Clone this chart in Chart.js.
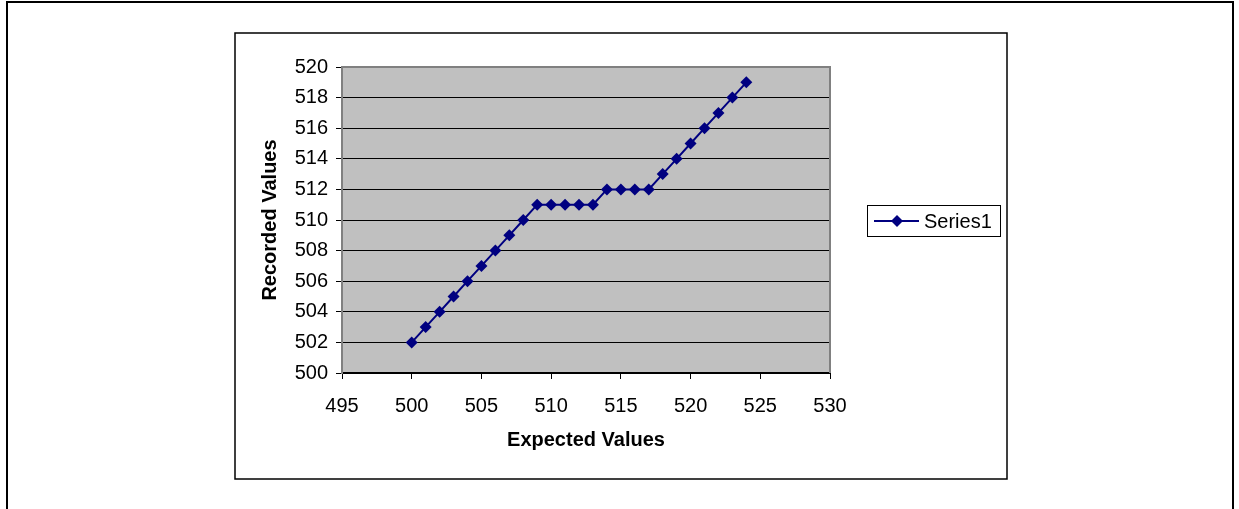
<!DOCTYPE html>
<html>
<head>
<meta charset="utf-8">
<script src="https://cdn.jsdelivr.net/npm/chart.js@4.4.1/dist/chart.umd.min.js"></script>
<style>
    html, body { margin: 0; padding: 0; background: #fff; }
    #wrap { width: 1239px; height: 509px; }
</style>
</head>
<body>
<div id="wrap"><canvas id="lineChart" width="1239" height="509"></canvas></div>
<script>
const expected = [500, 501, 502, 503, 504, 505, 506, 507, 508, 509, 510, 511, 512,
    513, 514, 515, 516, 517, 518, 519, 520, 521, 522, 523, 524];
const recorded = [502, 503, 504, 505, 506, 507, 508, 509, 510, 511, 511, 511, 511,
    511, 512, 512, 512, 512, 513, 514, 515, 516, 517, 518, 519];
const seriesName = 'Series1';

const chartConfig = {
    font: 'Liberation Sans, Arial, sans-serif',
    navy: '#000080',
    plotFill: '#c0c0c0',
    plotBorder: '#808080',
};

// frames, plot background and the legend box
const framePlugin = {
    id: 'frames',
    beforeDraw(chart) {
        const c = chart.ctx;
        const a = chart.chartArea;
        c.save();
        c.fillStyle = '#fff';
        c.fillRect(0, 0, chart.width, chart.height);
        c.strokeStyle = '#000';
        c.lineWidth = 2;
        c.beginPath();
        c.moveTo(7, 520);
        c.lineTo(7, 2);
        c.lineTo(1233, 2);
        c.lineTo(1233, 520);
        c.stroke();
        c.lineWidth = 1.5;
        c.strokeRect(235, 33, 772, 446);
        c.fillStyle = chartConfig.plotFill;
        c.fillRect(a.left, a.top, a.right - a.left, a.bottom - a.top);
        c.restore();
    },
    afterDraw(chart) {
        const c = chart.ctx;
        const a = chart.chartArea;
        c.save();
        c.strokeStyle = chartConfig.plotBorder;
        c.lineWidth = 2;
        c.beginPath();
        c.moveTo(a.left, a.top);
        c.lineTo(a.right, a.top);
        c.lineTo(a.right, a.bottom);
        c.stroke();

        // legend
        c.strokeStyle = '#000';
        c.lineWidth = 1;
        c.strokeRect(867.5, 205.5, 133, 31);
        c.strokeStyle = chartConfig.navy;
        c.lineWidth = 2;
        c.beginPath();
        c.moveTo(874, 221);
        c.lineTo(919, 221);
        c.stroke();
        c.fillStyle = chartConfig.navy;
        c.beginPath();
        c.moveTo(897, 215);
        c.lineTo(903, 221);
        c.lineTo(897, 227);
        c.lineTo(891, 221);
        c.closePath();
        c.fill();
        c.fillStyle = '#000';
        c.font = '20px ' + chartConfig.font;
        c.textBaseline = 'middle';
        c.fillText(seriesName, 924, 222);
        c.restore();
    }
};

new Chart(document.getElementById('lineChart'), {
    type: 'scatter',
    data: {
        datasets: [{
            label: seriesName,
            data: expected.map((x, i) => ({ x: x, y: recorded[i] })),
            showLine: true,
            borderColor: chartConfig.navy,
            backgroundColor: chartConfig.navy,
            borderWidth: 2,
            pointStyle: 'rectRot',
            pointRadius: 6,
            pointBorderWidth: 0,
            clip: false
        }]
    },
    options: {
        responsive: false,
        animation: false,
        layout: {
            padding: { left: 235, right: 409, top: 67, bottom: 30 }
        },
        scales: {
            x: {
                type: 'linear',
                min: 495,
                max: 530,
                afterFit(scale) { scale.height = 106; },
                ticks: {
                    stepSize: 5,
                    color: '#000',
                    padding: 15,
                    font: { family: chartConfig.font, size: 20 }
                },
                grid: {
                    drawOnChartArea: false,
                    color: '#000',
                    tickLength: 6
                },
                border: { color: '#000', width: 2 },
                title: {
                    display: true,
                    text: 'Expected Values',
                    color: '#000',
                    padding: { top: 0, bottom: 27 },
                    font: { family: chartConfig.font, size: 20, weight: 'bold' }
                }
            },
            y: {
                min: 500,
                max: 520,
                afterFit(scale) { scale.width = 107; },
                ticks: {
                    stepSize: 2,
                    color: '#000',
                    padding: 8,
                    font: { family: chartConfig.font, size: 20 }
                },
                grid: {
                    color: (ctx) => ctx.tick && ctx.tick.value === 520 ? chartConfig.plotBorder : '#000',
                    tickColor: '#000',
                    tickLength: 6
                },
                border: { color: chartConfig.plotBorder, width: 2 },
                title: {
                    display: true,
                    text: 'Recorded Values',
                    color: '#000',
                    padding: { top: 23, bottom: 0 },
                    font: { family: chartConfig.font, size: 20, weight: 'bold' }
                }
            }
        },
        plugins: {
            legend: { display: false },
            tooltip: { enabled: false }
        }
    },
    plugins: [framePlugin]
});
</script>
</body>
</html>
